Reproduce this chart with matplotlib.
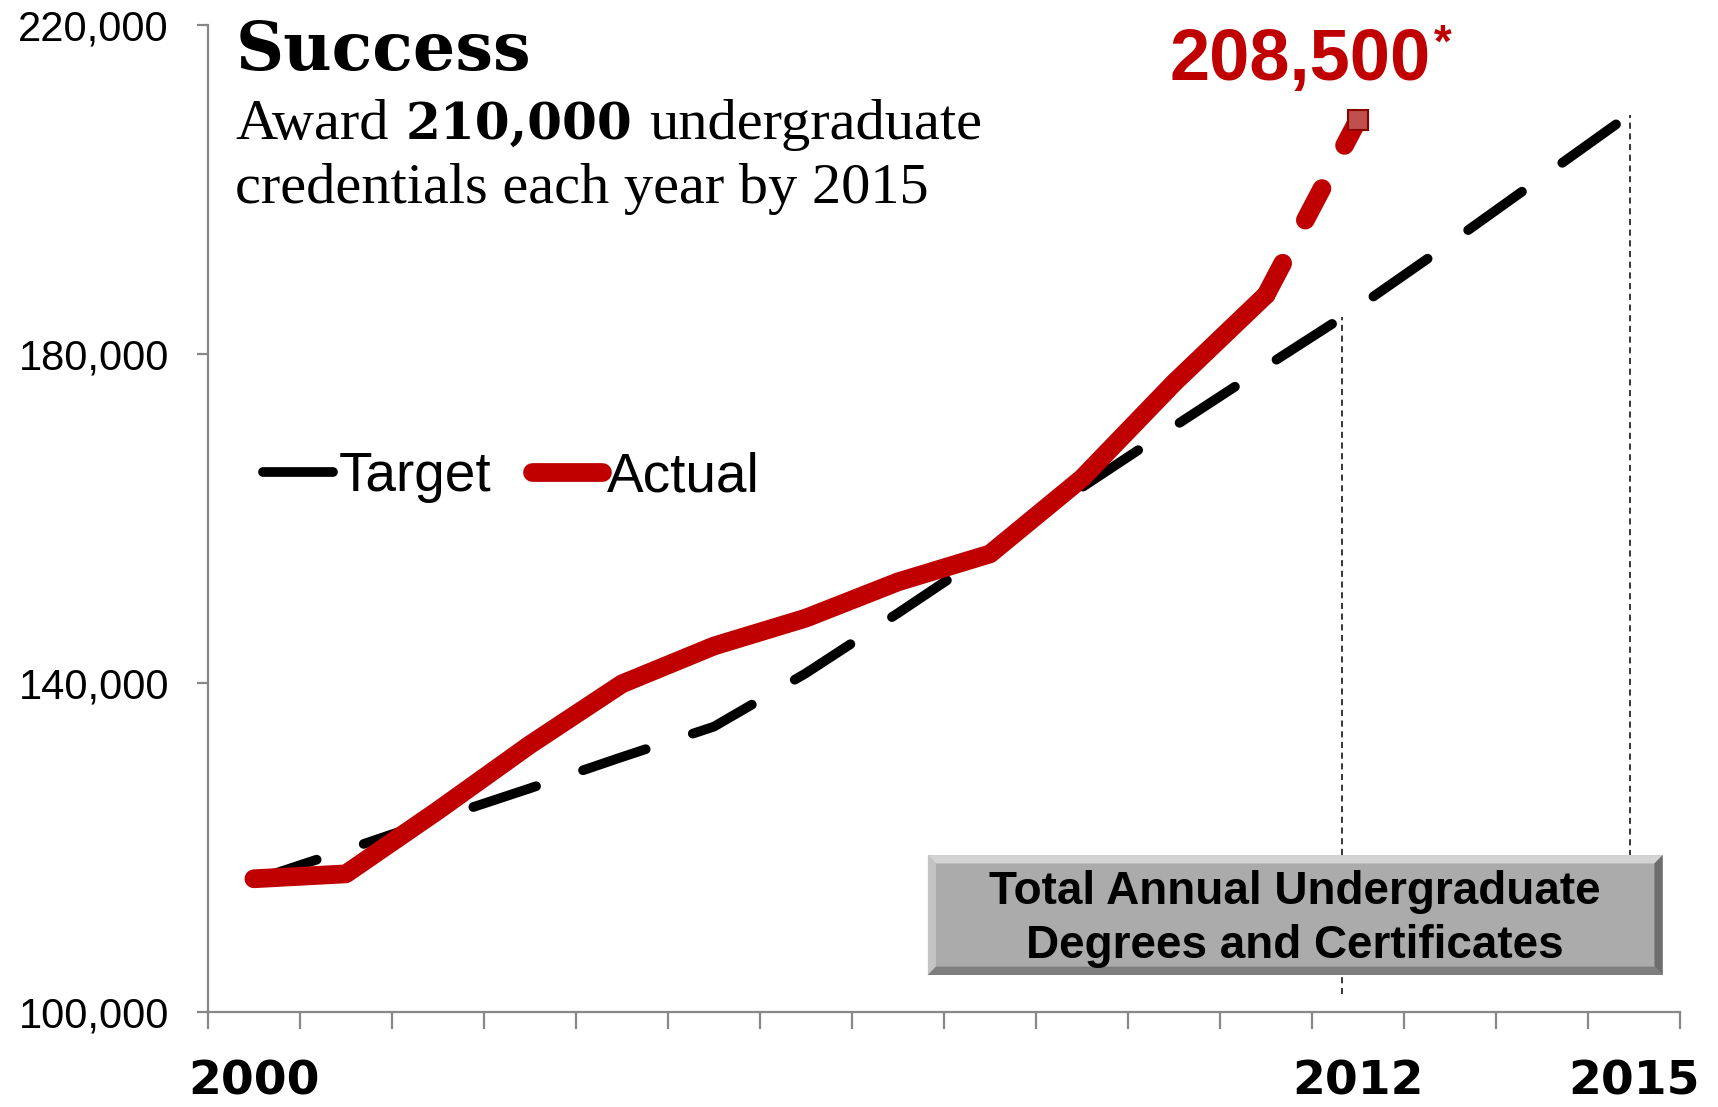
import matplotlib.pyplot as plt
from matplotlib.lines import Line2D
from matplotlib.patches import Polygon, Rectangle
from matplotlib.ticker import FixedLocator, FuncFormatter, NullFormatter
import numpy as np

# --- data ---
YEARS = list(range(2000, 2016))
TARGET = [116000, 119700, 123500, 127200, 131000, 134700, 141200, 148500,
          156000, 163800, 171200, 178500, 185700, 193500, 201500, 209500]
ACTUAL_YEARS = list(range(2000, 2012))
ACTUAL = [116200, 116800, 124500, 132500, 139900, 144500, 147900, 152300,
          155700, 164900, 176500, 187200]
PROJECTED_YEAR = 2012
PROJECTED = 208500
LABELED_YEARS = [2000, 2012, 2015]
Y_TICKS = [100000, 140000, 180000, 220000]
GUIDE_X = [2011.83, 2014.95]
GUIDE_BOTTOM = [102200, 119000]

RED = "#C00000"
AXIS_GRAY = "#878787"
SANS = ["Liberation Sans", "DejaVu Sans"]
SERIF = ["Liberation Serif", "DejaVu Serif"]

fig = plt.figure(figsize=(17.18, 11.07), dpi=100)
ax = fig.add_axes([0.121, 0.0858, 0.857, 0.8916])

# target (dashed) and actual (solid + projected dashes)
ax.plot(YEARS, TARGET, color="black", lw=7, linestyle=(0, (6.8, 5.1)),
        dash_capstyle="round", zorder=3)
ax.plot(ACTUAL_YEARS, ACTUAL, color=RED, lw=13.5, solid_capstyle="round",
        solid_joinstyle="round", zorder=4)
ax.plot([ACTUAL_YEARS[-1], PROJECTED_YEAR], [ACTUAL[-1], PROJECTED], color=RED,
        lw=13.5, linestyle=(0, (1.9, 2.6)), dash_capstyle="round", zorder=4)
ax.plot([PROJECTED_YEAR], [PROJECTED], marker="s", ms=15, mfc="#C0504D",
        mec="#8B0000", mew=1.5, ls="none", zorder=5)

# thin drop lines from the target line
for gx, gb in zip(GUIDE_X, GUIDE_BOTTOM):
    ax.plot([gx, gx], [gb, np.interp(gx, YEARS, TARGET)], color="black",
            lw=1.1, ls=(0, (4, 3)), zorder=2)

ax.set_xlim(YEARS[0] - 0.5, YEARS[-1] + 0.5)
ax.set_ylim(Y_TICKS[0], Y_TICKS[-1])

for side in ("top", "right"):
    ax.spines[side].set_visible(False)
for side in ("left", "bottom"):
    ax.spines[side].set_color(AXIS_GRAY)
    ax.spines[side].set_linewidth(1.6)

ax.yaxis.set_major_locator(FixedLocator(Y_TICKS))
ax.yaxis.set_major_formatter(FuncFormatter(lambda v, _: f"{v:,.0f}"))
ax.tick_params(axis="y", length=8, width=1.6, color=AXIS_GRAY, pad=20,
               labelsize=30, labelcolor="black")
for lbl in ax.get_yticklabels():
    lbl.set_family(SANS)

ax.xaxis.set_major_locator(FixedLocator(LABELED_YEARS))
ax.xaxis.set_major_formatter(FuncFormatter(lambda v, _: f"{v:.0f}"))
ax.xaxis.set_minor_locator(FixedLocator(np.arange(YEARS[0] - 0.5, YEARS[-1] + 1, 1.0)))
ax.xaxis.set_minor_formatter(NullFormatter())
ax.tick_params(axis="x", which="major", length=0, pad=34, labelsize=34)
ax.tick_params(axis="x", which="minor", length=12, width=1.6, color=AXIS_GRAY)
for lbl in ax.get_xticklabels():
    lbl.set_family("DejaVu Sans")
    lbl.set_fontweight("bold")

# legend
handles = [Line2D([], [], color="black", lw=7, solid_capstyle="round"),
           Line2D([], [], color=RED, lw=13.5, solid_capstyle="round")]
ax.legend(handles, ["Target", "Actual"], loc="center left",
          bbox_to_anchor=(0.004, 0.542), ncol=2, frameon=False,
          handlelength=1.27, handletextpad=0.1, columnspacing=0.75,
          prop={"family": SANS, "size": 39.5})

# bevelled grey caption box
bx0, bx1, by0, by1 = 0.489, 0.988, 0.0375, 0.159
bw, bh = 0.0055, 0.0085
ax.add_patch(Rectangle((bx0, by0), bx1 - bx0, by1 - by0, transform=ax.transAxes,
                       facecolor="#ABABAB", edgecolor="none", zorder=6))
bevels = [
    ([(bx0, by1), (bx1, by1), (bx1 - bw, by1 - bh), (bx0 + bw, by1 - bh)], "#D4D4D4"),
    ([(bx0, by0), (bx0, by1), (bx0 + bw, by1 - bh), (bx0 + bw, by0 + bh)], "#C4C4C4"),
    ([(bx1, by0), (bx1, by1), (bx1 - bw, by1 - bh), (bx1 - bw, by0 + bh)], "#6E6E6E"),
    ([(bx0, by0), (bx1, by0), (bx1 - bw, by0 + bh), (bx0 + bw, by0 + bh)], "#7E7E7E"),
]
for pts, col in bevels:
    ax.add_patch(Polygon(pts, closed=True, transform=ax.transAxes,
                         facecolor=col, edgecolor="none", zorder=6))
ax.text((bx0 + bx1) / 2, (by0 + by1) / 2 - 0.004,
        "Total Annual Undergraduate\nDegrees and Certificates",
        transform=ax.transAxes, ha="center", va="center", fontsize=33,
        fontweight="bold", family=SANS, linespacing=1.28, zorder=7)

# titles
fig.text(0.137, 0.9368, "Success", fontsize=48, fontweight="bold",
         family="DejaVu Serif", va="baseline")

renderer = fig.canvas.get_renderer()
W, H = fig.bbox.width, fig.bbox.height


def run_text(x, y, parts, gap_px):
    """place text pieces one after another on the same baseline"""
    for txt, kw in parts:
        t = fig.text(x, y, txt, va="baseline", **kw)
        x = t.get_window_extent(renderer).x1 / W + gap_px / W
    return x


serif_kw = {"fontsize": 42, "family": SERIF}
run_text(0.137, 0.8744, [("Award", serif_kw),
                         ("210,000", {"fontsize": 36, "family": "DejaVu Serif", "fontweight": "bold"}),
                         ("undergraduate", serif_kw)], 17)
fig.text(0.137, 0.8166, "credentials each year by 2015", va="baseline", **serif_kw)

# projected value label
num = fig.text(0.681, 0.9277, f"{PROJECTED:,}", va="baseline", color=RED,
               fontsize=52, fontweight="bold", family=SANS)
nb = num.get_window_extent(renderer)
fig.text(nb.x1 / W + 3 / W, nb.y1 / H + 4 / H, "*", va="top", ha="left",
         color=RED, fontsize=33, fontweight="bold", family=SANS)

fig.savefig("out.png", dpi=100)
